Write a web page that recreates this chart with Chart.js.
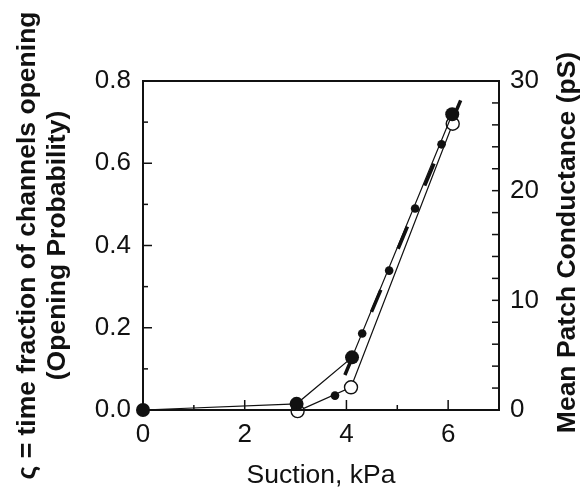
<!DOCTYPE html>
<html><head><meta charset="utf-8">
<script src="https://cdn.jsdelivr.net/npm/chart.js@4/dist/chart.umd.min.js"></script>
<style>html,body{margin:0;padding:0;background:#fff}canvas{display:block}</style>
</head><body>
<canvas id="c" width="587" height="493"></canvas>
<script>
// ---- data ----
const suctionPo = [0, 3.02, 4.11, 6.08];          // kPa, large filled circles
const openProb  = [0, 0.015, 0.128, 0.719];       // opening probability (left axis)
const suctionDots = [3.775, 4.31, 4.84, 5.35, 5.87]; // small filled dots
const dotProb     = [0.035, 0.186, 0.339, 0.49, 0.646];
const suctionG = [3.04, 4.09, 6.09];              // open circles
const conductance = [-0.1, 2.07, 26.1];           // mean patch conductance, pS (right axis)
const fitSuction = [3.97, 6.25];                  // dashed fit line
const fitProb    = [0.085, 0.754];

const xLabelValues = [0, 2, 4, 6];
const leftLabelValues = [0, 0.2, 0.4, 0.6, 0.8];
const rightLabelValues = [0, 10, 20, 30];
const xTitle = 'Suction, kPa';
const leftTitle1 = 'ς = time fraction of channels opening';
const leftTitle2 = '(Opening Probability)';
const rightTitle = 'Mean Patch Conductance (pS)';

const FONT = '"Liberation Sans", Arial, Helvetica, sans-serif';
Chart.defaults.font.family = FONT;
Chart.defaults.color = '#111';

const pts = (xs, ys) => xs.map((x, i) => ({x, y: ys[i]}));
const near = (v, arr) => arr.some(a => Math.abs(a - v) < 1e-6);

const decor = {
  id: 'decor',
  afterDraw(chart) {
    const {ctx, chartArea: a, scales} = chart;
    ctx.save();
    ctx.strokeStyle = '#111';
    // tick marks (inside)
    ctx.lineWidth = 1.5;
    const drawTicks = (scale, labels, majorLen, minorLen, side) => {
      scale.ticks.forEach(t => {
        const p = scale.getPixelForValue(t.value);
        const len = near(t.value, labels) ? majorLen : minorLen;
        ctx.beginPath();
        if (side === 'bottom') { ctx.moveTo(p, a.bottom); ctx.lineTo(p, a.bottom - len); }
        else if (side === 'left') { ctx.moveTo(a.left, p); ctx.lineTo(a.left + len, p); }
        else { ctx.moveTo(a.right, p); ctx.lineTo(a.right - len, p); }
        ctx.stroke();
      });
    };
    drawTicks(scales.x, xLabelValues, 10, 5, 'bottom');
    drawTicks(scales.y, leftLabelValues, 9, 5, 'left');
    drawTicks(scales.y2, rightLabelValues, 7, 7, 'right');
    // frame
    ctx.lineWidth = 2;
    ctx.strokeRect(a.left, a.top, a.right - a.left, a.bottom - a.top);
    // rotated axis titles
    ctx.fillStyle = '#111';
    ctx.font = 'bold 26.5px ' + FONT;
    ctx.textAlign = 'center';
    ctx.textBaseline = 'middle';
    const cy = (a.top + a.bottom) / 2;
    const rot = (x, y, txt) => { ctx.save(); ctx.translate(x, y); ctx.rotate(-Math.PI / 2); ctx.fillText(txt, 0, 0); ctx.restore(); };
    rot(27.7, cy, leftTitle1);
    rot(57.7, cy, leftTitle2);
    rot(567.7, cy - 3, rightTitle);
    ctx.restore();
  }
};

new Chart(document.getElementById('c'), {
  type: 'line',
  data: {
    datasets: [
      { label: 'Opening probability', data: pts(suctionPo, openProb), yAxisID: 'y',
        borderColor: '#111', borderWidth: 1.2, backgroundColor: '#111',
        pointRadius: 7, pointBackgroundColor: '#111', pointBorderColor: '#111', pointBorderWidth: 0,
        clip: false },
      { label: 'Intermediate', data: pts(suctionDots, dotProb), yAxisID: 'y', showLine: false,
        pointRadius: 4.3, pointBackgroundColor: '#111', pointBorderColor: '#111', pointBorderWidth: 0, clip: false },
      { label: 'Conductance', data: pts(suctionG, conductance), yAxisID: 'y2',
        borderColor: '#111', borderWidth: 1.2,
        pointRadius: 6.5, pointBackgroundColor: '#fff', pointBorderColor: '#111', pointBorderWidth: 1.4, clip: false },
      { label: 'Fit', data: pts(fitSuction, fitProb), yAxisID: 'y',
        borderColor: '#111', borderWidth: 3.5, borderDash: [24, 44.5], borderCapStyle: 'butt',
        pointRadius: 0, clip: false }
    ]
  },
  options: {
    responsive: false,
    animation: false,
    events: [],
    layout: { padding: { top: 81, left: 0, right: 0, bottom: 0 } },
    plugins: { legend: { display: false }, tooltip: { enabled: false } },
    scales: {
      x: {
        type: 'linear', position: 'bottom', min: 0, max: 7,
        grid: { display: false, drawTicks: false }, border: { display: false },
        ticks: { stepSize: 1, autoSkip: false, padding: 9, maxRotation: 0, color: '#111',
          font: { size: 26 }, callback: v => near(v, xLabelValues) ? String(v) : '' },
        title: { display: true, text: xTitle, color: '#111', font: { size: 26.5 }, padding: { top: 0, bottom: 1 } },
        afterFit: s => { s.height = 83; }
      },
      y: {
        type: 'linear', position: 'left', min: 0, max: 0.8,
        grid: { display: false, drawTicks: false }, border: { display: false },
        ticks: { stepSize: 0.1, autoSkip: false, padding: 12, color: '#111', font: { size: 26 },
          callback: v => near(v, leftLabelValues) ? v.toFixed(1) : '' },
        afterFit: s => { s.width = 143; }
      },
      y2: {
        type: 'linear', position: 'right', min: 0, max: 30,
        grid: { display: false, drawTicks: false }, border: { display: false },
        ticks: { stepSize: 2, autoSkip: false, padding: 11, color: '#111', font: { size: 26 },
          callback: v => near(v, rightLabelValues) ? String(v) : '' },
        afterFit: s => { s.width = 88; }
      }
    }
  },
  plugins: [decor]
});
</script>
</body></html>
